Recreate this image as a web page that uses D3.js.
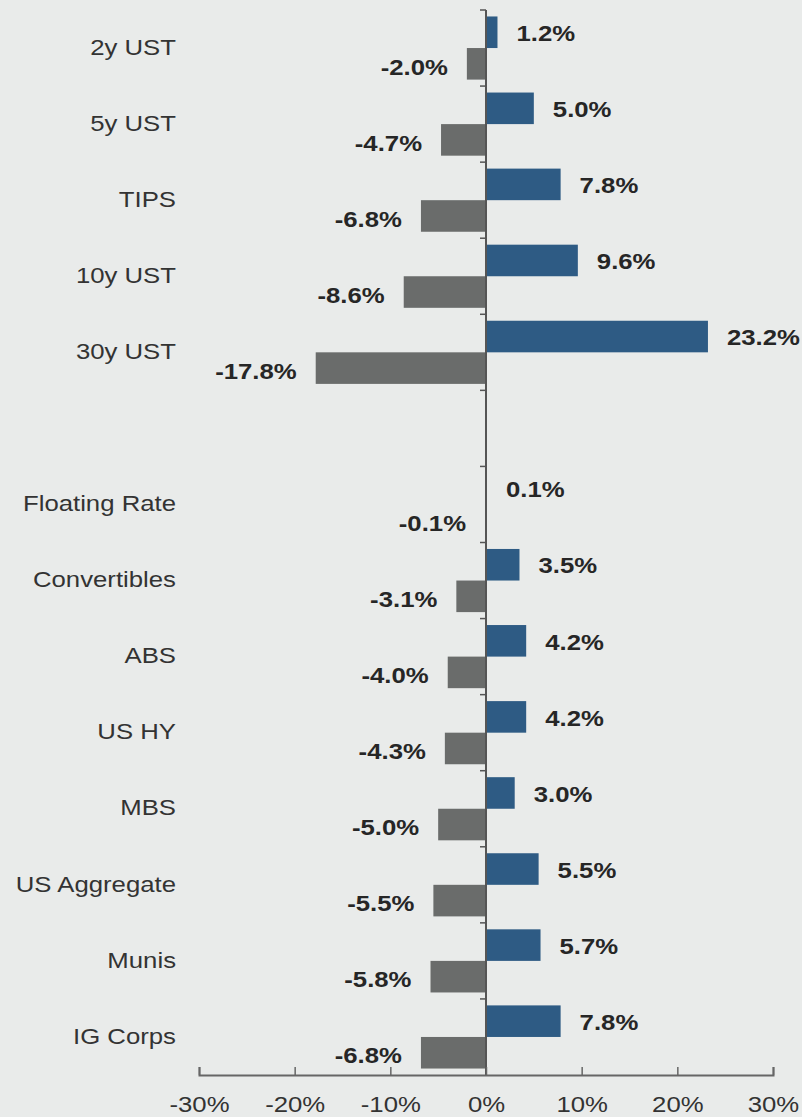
<!DOCTYPE html>
<html>
<head>
<meta charset="utf-8">
<script src="https://d3js.org/d3.v7.min.js"></script>
<style>
  body { margin:0; background:#e9ebea; }
  text { font-family: "Liberation Sans", Arial, sans-serif; }
</style>
</head>
<body>
<div id="chart"></div>
<script>
// categories top to bottom, "" is the empty slot between the two groups
var categories = ["2y UST", "5y UST", "TIPS", "10y UST", "30y UST", "",
    "Floating Rate", "Convertibles", "ABS", "US HY", "MBS", "US Aggregate", "Munis", "IG Corps"];
var upValues   = [1.2, 5.0, 7.8, 9.6, 23.2, null, 0.1, 3.5, 4.2, 4.2, 3.0, 5.5, 5.7, 7.8];
var downValues = [-2.0, -4.7, -6.8, -8.6, -17.8, null, -0.1, -3.1, -4.0, -4.3, -5.0, -5.5, -5.8, -6.8];
var xTicks = [-30, -20, -10, 0, 10, 20, 30];

var width = 802, height = 1117;
var margin = {top: 10, left: 199, right: 29, bottom: 42};
var stretch = 1.17; // text in the original is a bit wider than it is tall

var svg = d3.select("#chart").append("svg")
    .attr("width", width)
    .attr("height", height);

svg.append("rect").attr("width", width).attr("height", height).attr("fill", "#e9ebea");

var x = d3.scaleLinear()
    .domain([-30, 30])
    .range([margin.left, width - margin.right]);

var y = d3.scaleBand()
    .domain(d3.range(categories.length))
    .range([margin.top, height - margin.bottom])
    .paddingInner(0)
    .paddingOuter(0);

var step = y.bandwidth();
var pad = step * 0.085;
var barH = (step - 2 * pad) / 2;

function place(px, py) {
    return "translate(" + px + "," + py + ") scale(" + stretch + ",1)";
}

// rows
var rows = svg.selectAll(".row")
    .data(categories.map(function(c, i) { return {name: c, up: upValues[i], down: downValues[i], i: i}; }))
    .enter().append("g")
    .attr("class", "row")
    .attr("transform", function(d) { return "translate(0," + y(d.i) + ")"; });

rows.filter(function(d) { return d.up != null; })
    .append("rect")
    .attr("x", x(0))
    .attr("y", pad)
    .attr("width", function(d) { return x(d.up) - x(0); })
    .attr("height", barH)
    .attr("fill", "#2e5b84");

rows.filter(function(d) { return d.down != null; })
    .append("rect")
    .attr("x", function(d) { return x(d.down); })
    .attr("y", pad + barH)
    .attr("width", function(d) { return x(0) - x(d.down); })
    .attr("height", barH)
    .attr("fill", "#6a6c6b");

// value labels
rows.filter(function(d) { return d.up != null; })
    .append("text")
    .attr("transform", function(d) { return place(x(d.up) + 19, pad + barH / 2 + 1); })
    .attr("dy", "0.35em")
    .attr("font-size", 22)
    .attr("font-weight", "bold")
    .attr("fill", "#262626")
    .text(function(d) { return d.up.toFixed(1) + "%"; });

rows.filter(function(d) { return d.down != null; })
    .append("text")
    .attr("transform", function(d) { return place(x(d.down) - 19, pad + barH * 1.5 + 3); })
    .attr("dy", "0.35em")
    .attr("text-anchor", "end")
    .attr("font-size", 22)
    .attr("font-weight", "bold")
    .attr("fill", "#262626")
    .text(function(d) { return d.down.toFixed(1) + "%"; });

// category labels
rows.append("text")
    .attr("transform", place(176, step / 2 - 1))
    .attr("dy", "0.35em")
    .attr("text-anchor", "end")
    .attr("font-size", 22)
    .attr("fill", "#333")
    .text(function(d) { return d.name; });

// vertical axis at zero with small ticks on the left
var yAxis = svg.append("g");
yAxis.append("line")
    .attr("x1", x(0)).attr("x2", x(0))
    .attr("y1", margin.top).attr("y2", height - margin.bottom)
    .attr("stroke", "#555").attr("stroke-width", 2);
yAxis.selectAll(".yt")
    .data(d3.range(categories.length))
    .enter().append("line")
    .attr("x1", x(0) - 6).attr("x2", x(0))
    .attr("y1", function(d) { return y(d); })
    .attr("y2", function(d) { return y(d); })
    .attr("stroke", "#555").attr("stroke-width", 1.5);

// x axis
var xAxis = svg.append("g")
    .attr("transform", "translate(0," + (height - margin.bottom) + ")")
    .call(d3.axisBottom(x).tickValues(xTicks).tickSize(-8).tickPadding(21)
        .tickFormat(function(d) { return d + "%"; }));
xAxis.select(".domain").attr("stroke", "#666").attr("stroke-width", 2);
xAxis.selectAll(".tick line").attr("stroke", "#666").attr("stroke-width", 1.5);
xAxis.selectAll(".tick text")
    .attr("font-size", 22)
    .attr("fill", "#333")
    .attr("transform", "scale(" + stretch + ",1)")
    .style("font-family", "Liberation Sans, Arial, sans-serif");
</script>
</body>
</html>
